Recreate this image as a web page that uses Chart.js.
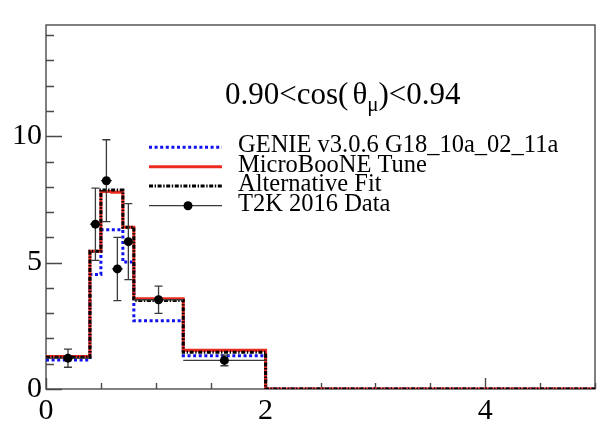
<!DOCTYPE html>
<html>
<head>
<meta charset="utf-8">
<script src="https://cdn.jsdelivr.net/npm/chart.js@4/dist/chart.umd.min.js"></script>
<style>
  html, body { margin: 0; padding: 0; background: #fff; }
  #wrap { width: 600px; height: 433px; }
</style>
</head>
<body>
<div id="wrap"><canvas id="c" width="600" height="433"></canvas></div>
<script>
// Muon momentum bin edges (GeV/c) for 0.90 < cos(theta_mu) < 0.94
const binEdges = [0, 0.4, 0.5, 0.6, 0.7, 0.8, 1.25, 2.0, 5.0];

// Differential cross sections per bin (last bin 2-5 GeV/c)
const genie  = [1.15, 4.53, 6.30, 6.30, 5.02, 2.70, 1.32, 0];
const uboone = [1.29, 5.45, 7.81, 7.78, 6.40, 3.57, 1.53, 0];
const altFit = [1.26, 5.45, 7.87, 7.87, 6.40, 3.50, 1.45, 0];

// T2K 2016 measurement (first seven bins) and its uncertainty
const t2kData = [1.22, 6.52, 8.24, 4.75, 5.83, 3.53, 1.13];
const t2kErr  = [0.36, 1.43, 1.62, 1.25, 1.50, 0.54, 0.21];

const xTicks = [0, 2, 4];
const yTicks = [0, 5, 10];
const xRange = [0, 5];
const yRange = [0, 14.4];

const seriesNames = [
  'GENIE v3.0.6 G18_10a_02_11a',
  'MicroBooNE Tune',
  'Alternative Fit',
  'T2K 2016 Data'
];
const binTitle = ['0.90<cos(', 'θ', 'μ', ')<0.94'];

const SERIF = '"Liberation Serif", "DejaVu Serif", serif';

// Turn per-bin values into step-line vertices at the bin edges
function histPoints(values) {
  const pts = values.map((v, i) => ({ x: binEdges[i], y: v }));
  pts.push({ x: binEdges[binEdges.length - 1], y: values[values.length - 1] });
  return pts;
}

const dataPoints = t2kData.map((v, i) => ({
  x: (binEdges[i] + binEdges[i + 1]) / 2,
  y: v,
  lo: binEdges[i],
  hi: binEdges[i + 1],
  err: t2kErr[i]
}));

const styles = {
  genie:  { color: '#1010f0', width: 3, dash: [3, 2.6] },
  uboone: { color: '#ee2a1e', width: 3, dash: [] },
  alt:    { color: '#000000', width: 3, dash: [4, 1.6, 1.4, 1.6] },
  data:   { color: '#000000', bar: '#3a3a3a' }
};

// Frame and inward tick marks, drawn beneath the histograms
const framePlugin = {
  id: 'frame',
  beforeDatasetsDraw(chart) {
    const { ctx, chartArea: a, scales: { x, y } } = chart;
    ctx.save();
    ctx.strokeStyle = '#4a4a4a';
    ctx.lineWidth = 1.4;
    ctx.strokeRect(a.left, a.top, a.right - a.left, a.bottom - a.top);
    ctx.beginPath();
    for (let v = 0; v <= yRange[1] + 1e-9; v += 1) {
      const py = Math.round(y.getPixelForValue(v)) + 0.5;
      const len = (v % 5 === 0) ? 16 : 8;
      ctx.moveTo(a.left, py); ctx.lineTo(a.left + len, py);
    }
    for (let v = 0; v <= xRange[1] + 1e-9; v += 0.5) {
      const px = Math.round(x.getPixelForValue(v)) + 0.5;
      const len = xTicks.includes(v) ? 11 : 6;
      ctx.moveTo(px, a.bottom); ctx.lineTo(px, a.bottom - len);
    }
    ctx.stroke();
    ctx.restore();
  }
};

// Vertical and bin-width error bars for the measured points
const errorBarPlugin = {
  id: 'errorBars',
  beforeDatasetDraw(chart, args) {
    const ds = chart.data.datasets[args.index];
    if (!ds.isMeasurement) return;
    const { ctx, scales: { x, y } } = chart;
    ctx.save();
    ctx.strokeStyle = styles.data.bar;
    ctx.lineWidth = 1.3;
    ctx.beginPath();
    ds.data.forEach(p => {
      const px = x.getPixelForValue(p.x);
      const py = y.getPixelForValue(p.y);
      const top = y.getPixelForValue(p.y + p.err);
      const bot = y.getPixelForValue(p.y - p.err);
      ctx.moveTo(x.getPixelForValue(p.lo), py);
      ctx.lineTo(x.getPixelForValue(p.hi), py);
      ctx.moveTo(px, top); ctx.lineTo(px, bot);
      ctx.moveTo(px - 4, top); ctx.lineTo(px + 4, top);
      ctx.moveTo(px - 4, bot); ctx.lineTo(px + 4, bot);
    });
    ctx.stroke();
    ctx.restore();
  }
};

// Bin label and legend box inside the frame
const annotationPlugin = {
  id: 'annotations',
  afterDraw(chart) {
    const { ctx } = chart;
    ctx.save();
    ctx.fillStyle = '#000';
    ctx.textBaseline = 'alphabetic';

    // Bin label with subscripted mu
    let tx = 225;
    const ty = 104;
    ctx.font = '31px ' + SERIF;
    ctx.fillText(binTitle[0], tx, ty);
    tx += ctx.measureText(binTitle[0]).width + 4;
    ctx.fillText(binTitle[1], tx, ty);
    tx += ctx.measureText(binTitle[1]).width;
    ctx.font = '21px ' + SERIF;
    ctx.fillText(binTitle[2], tx, ty + 7);
    tx += ctx.measureText(binTitle[2]).width;
    ctx.font = '31px ' + SERIF;
    ctx.fillText(binTitle[3], tx, ty);

    // Legend
    const lx0 = 149, lx1 = 222, textX = 238;
    const rows = [147.3, 166.7, 186, 205.7];
    const lineStyles = [styles.genie, styles.uboone, styles.alt];
    ctx.font = '24.5px ' + SERIF;
    rows.forEach((ry, i) => {
      ctx.beginPath();
      if (i < 3) {
        const s = lineStyles[i];
        ctx.strokeStyle = s.color;
        ctx.lineWidth = s.width;
        ctx.setLineDash(s.dash);
      } else {
        ctx.strokeStyle = styles.data.bar;
        ctx.lineWidth = 1.3;
        ctx.setLineDash([]);
      }
      ctx.moveTo(lx0, ry); ctx.lineTo(lx1, ry);
      ctx.stroke();
      ctx.setLineDash([]);
      if (i === 3) {
        ctx.beginPath();
        ctx.fillStyle = styles.data.color;
        ctx.arc(188, ry, 4.5, 0, Math.PI * 2);
        ctx.fill();
      }
      ctx.fillStyle = '#000';
      ctx.fillText(seriesNames[i], textX, ry + 5);
    });
    ctx.restore();
  }
};

function histDataset(label, values, s, order) {
  return {
    label,
    data: histPoints(values),
    stepped: 'before',
    borderColor: s.color,
    borderWidth: s.width,
    borderDash: s.dash,
    borderCapStyle: 'butt',
    pointRadius: 0,
    fill: false,
    order
  };
}

new Chart(document.getElementById('c'), {
  type: 'line',
  data: {
    datasets: [
      {
        label: seriesNames[3],
        type: 'scatter',
        isMeasurement: true,
        data: dataPoints,
        pointRadius: 4.5,
        pointBackgroundColor: styles.data.color,
        pointBorderColor: styles.data.color,
        pointBorderWidth: 0,
        showLine: false,
        order: 0
      },
      histDataset(seriesNames[2], altFit, styles.alt, 1),
      histDataset(seriesNames[1], uboone, styles.uboone, 2),
      histDataset(seriesNames[0], genie, styles.genie, 3)
    ]
  },
  options: {
    responsive: false,
    animation: false,
    devicePixelRatio: 1,
    layout: { padding: { top: 25, right: 5, left: 0, bottom: 0 } },
    plugins: { legend: { display: false }, tooltip: { enabled: false } },
    scales: {
      x: {
        type: 'linear',
        min: xRange[0],
        max: xRange[1],
        grid: { display: false, drawTicks: false },
        border: { display: false },
        afterBuildTicks: s => { s.ticks = xTicks.map(v => ({ value: v })); },
        afterFit: s => { s.height = 44; },
        ticks: {
          font: { family: SERIF, size: 30 },
          color: '#000',
          padding: 4,
          maxRotation: 0,
          autoSkip: false
        }
      },
      y: {
        type: 'linear',
        min: yRange[0],
        max: yRange[1],
        grid: { display: false, drawTicks: false },
        border: { display: false },
        afterBuildTicks: s => { s.ticks = yTicks.map(v => ({ value: v })); },
        afterFit: s => { s.width = 46; },
        ticks: {
          font: { family: SERIF, size: 30 },
          color: '#000',
          padding: 4,
          autoSkip: false
        }
      }
    }
  },
  plugins: [framePlugin, errorBarPlugin, annotationPlugin]
});
</script>
</body>
</html>
